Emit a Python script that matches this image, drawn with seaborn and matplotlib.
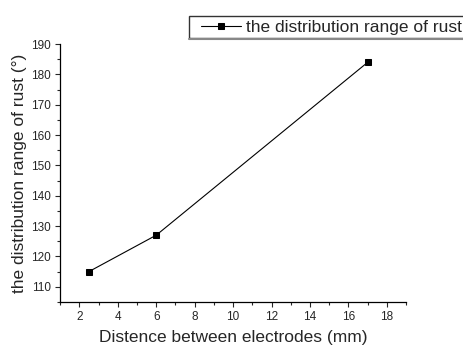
import numpy as np
import pandas as pd
import seaborn as sns
import matplotlib
matplotlib.use('Agg')
import matplotlib.pyplot as plt
from matplotlib.ticker import MultipleLocator
from matplotlib.patches import Rectangle

# data
distance_mm = [2.5, 6, 17]
rust_range_deg = [115, 127, 184]
series_name = 'the distribution range of rust'

df = pd.DataFrame({'distance': distance_mm, 'range': rust_range_deg})

sns.set_style('ticks')
plt.rcParams['font.family'] = ['Liberation Sans', 'DejaVu Sans']
plt.rcParams['xtick.direction'] = 'out'
plt.rcParams['ytick.direction'] = 'out'

W, H = 463, 345
fig = plt.figure(figsize=(W / 100, H / 100), dpi=100)
ax = fig.add_axes([0.130, 0.125, 0.747, 0.747])

sns.lineplot(data=df, x='distance', y='range', ax=ax, color='black',
             marker='s', markersize=5, markeredgecolor='black',
             linewidth=0.8, label=series_name, legend=False)

ax.set_xlim(1, 19)
ax.set_ylim(105, 190)
ax.xaxis.set_major_locator(MultipleLocator(2))
ax.xaxis.set_minor_locator(MultipleLocator(1))
ax.yaxis.set_major_locator(MultipleLocator(10))
ax.yaxis.set_minor_locator(MultipleLocator(5))
ax.tick_params(which='major', length=3.5, width=0.8, labelsize=8.5, pad=3)
ax.tick_params(which='minor', length=2, width=0.8)
for s in ['top', 'right']:
    ax.spines[s].set_visible(False)
for s in ['left', 'bottom']:
    ax.spines[s].set_linewidth(0.9)
    ax.spines[s].set_color('black')

ax.set_xlabel('Distence between electrodes (mm)', fontsize=12.5, labelpad=5)
ax.set_ylabel('the distribution range of rust (°)', fontsize=12.5, labelpad=3)

# legend box runs off the right edge in the original
box = Rectangle((189 / W, 1 - 37.7 / H), 0.7, 22 / H, transform=fig.transFigure,
                fill=False, edgecolor='#333333', linewidth=1.0, clip_on=False)
fig.patches.append(box)
fig.add_artist(plt.Line2D([189 / W, 1.0], [1 - 38.5 / H] * 2, transform=fig.transFigure,
                          color='#888888', linewidth=1.5))

handles, labels = ax.get_legend_handles_labels()
leg = fig.legend(handles, labels, loc='center left', bbox_to_anchor=(201 / W, 1 - 27.5 / H),
                 fontsize=12.5, frameon=False, handlelength=2.3,
                 borderpad=0, handletextpad=0.3, borderaxespad=0)

fig.savefig('out.png', dpi=100)
